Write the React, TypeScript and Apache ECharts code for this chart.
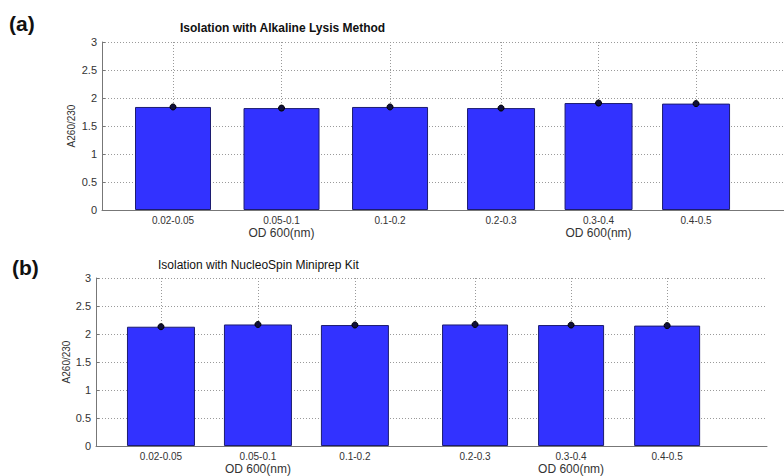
import React, { useEffect, useRef } from "react";
import * as echarts from "echarts";

// ---- data ----
const categoriesLeft = ["0.02-0.05", "0.05-0.1", "0.1-0.2"];
const categoriesRight = ["0.2-0.3", "0.3-0.4", "0.4-0.5"];
const alkalineLeft = [1.84, 1.82, 1.84];
const alkalineRight = [1.82, 1.91, 1.9];
const nucleoLeft = [2.13, 2.17, 2.16];
const nucleoRight = [2.17, 2.16, 2.15];
const panelLabels = ["(a)", "(b)"];
const panelTitles = [
  "Isolation with Alkaline Lysis Method",
  "Isolation with NucleoSpin Miniprep Kit",
];
const yName = "A260/230";
const xName = "OD 600(nm)";
const yMin = 0;
const yMax = 3;
const yStep = 0.5;

const FONT = "'Liberation Sans', Arial, sans-serif";

// ---- layout ----
const subplots = [
  { grid: { left: 102, top: 42, width: 350, height: 168 }, min: 0.3456, max: 3.571, barWidth: 76, showY: true, nameGap: 26, cats: categoriesLeft, vals: alkalineLeft },
  { grid: { left: 452, top: 42, width: 332, height: 168 }, min: 0.497, max: 3.902, barWidth: 68, showY: false, nameGap: 0, cats: categoriesRight, vals: alkalineRight },
  { grid: { left: 96, top: 278, width: 320, height: 168 }, min: 0.33, max: 3.63, barWidth: 68, showY: true, nameGap: 24, cats: categoriesLeft, vals: nucleoLeft },
  { grid: { left: 416, top: 278, width: 351, height: 168 }, min: 0.385, max: 4.04, barWidth: 66, showY: false, nameGap: 0, cats: categoriesRight, vals: nucleoRight },
];

export default function App() {
  const ref = useRef<HTMLDivElement>(null);
  useEffect(() => {
    if (!ref.current) return;
    const chart = echarts.init(ref.current, undefined, { renderer: "svg" });
    const gridLine = { type: [1, 2] as any, color: "#9a9a9a", width: 1 };

    const xAxes = subplots.map((s, i) => ({
      type: "value",
      gridIndex: i,
      min: s.min,
      max: s.max,
      axisLine: { show: true, onZero: false, lineStyle: { color: "#777", width: 1 } },
      axisTick: { show: false },
      splitLine: { show: false },
      axisLabel: {
        customValues: s.cats.map((_, k) => k + 1),
        margin: 4,
        color: "#333",
        fontFamily: FONT,
        fontSize: 10,
        formatter: (v: number) => {
          const idx = Math.round(v) - 1;
          const lab = s.cats[idx] ?? "";
          return idx === 1 ? `{a|${lab}}\n{b|${xName}}` : `{a|${lab}}`;
        },
        rich: {
          a: { fontSize: 10, fontFamily: FONT, color: "#333", lineHeight: 12 },
          b: { fontSize: 12, fontFamily: FONT, color: "#333", lineHeight: 13 },
        },
      },
    }));

    const yAxes = subplots.map((s, i) => ({
      type: "value",
      gridIndex: i,
      min: yMin,
      max: yMax,
      interval: yStep,
      name: s.showY ? yName : "",
      nameLocation: "middle",
      nameGap: s.nameGap,
      nameTextStyle: { fontFamily: FONT, fontSize: 10, color: "#333" },
      axisLine: { show: s.showY, lineStyle: { color: "#777", width: 1 } },
      axisTick: { show: s.showY, inside: true, length: 3, lineStyle: { color: "#777" } },
      axisLabel: { show: s.showY, color: "#333", fontFamily: FONT, fontSize: 11, margin: 5 },
      splitLine: { show: true, lineStyle: gridLine },
    }));

    const series: any[] = [];
    subplots.forEach((s, i) => {
      series.push({
        type: "bar",
        xAxisIndex: i,
        yAxisIndex: i,
        barWidth: s.barWidth,
        data: s.vals.map((v, k) => [k + 1, v]),
        itemStyle: { color: "#3232ff", borderColor: "#1c1c70", borderWidth: 1 },
        silent: true,
        markLine: {
          silent: true,
          symbol: ["none", "none"],
          label: { show: false },
          lineStyle: gridLine,
          data: s.vals.map((v, k) => [{ coord: [k + 1, yMax] }, { coord: [k + 1, v] }]),
        },
      });
      series.push({
        type: "scatter",
        xAxisIndex: i,
        yAxisIndex: i,
        z: 5,
        symbol: "circle",
        symbolSize: 6,
        data: s.vals.map((v, k) => [k + 1, v]),
        itemStyle: { color: "#10103a", borderColor: "#000", borderWidth: 1, opacity: 1 },
        silent: true,
      });
    });

    chart.setOption({
      animation: false,
      backgroundColor: "#fff",
      title: [
        { text: panelLabels[0], left: 9, top: 13, padding: 0, textStyle: { fontFamily: FONT, fontSize: 21, fontWeight: "bold", color: "#111" } },
        { text: panelTitles[0], left: 180, top: 22, padding: 0, textStyle: { fontFamily: FONT, fontSize: 12, fontWeight: "bold", color: "#111" } },
        { text: panelLabels[1], left: 12, top: 257, padding: 0, textStyle: { fontFamily: FONT, fontSize: 21, fontWeight: "bold", color: "#111" } },
        { text: panelTitles[1], left: 158, top: 259, padding: 0, textStyle: { fontFamily: FONT, fontSize: 12, fontWeight: "normal", color: "#111" } },
      ],
      grid: subplots.map((s) => ({ ...s.grid, containLabel: false })),
      xAxis: xAxes,
      yAxis: yAxes,
      series,
    });
    return () => chart.dispose();
  }, []);
  return (
    <div
      ref={ref}
      style={{ position: "fixed", left: 0, top: 0, width: 784, height: 476, background: "#fff" }}
    />
  );
}
